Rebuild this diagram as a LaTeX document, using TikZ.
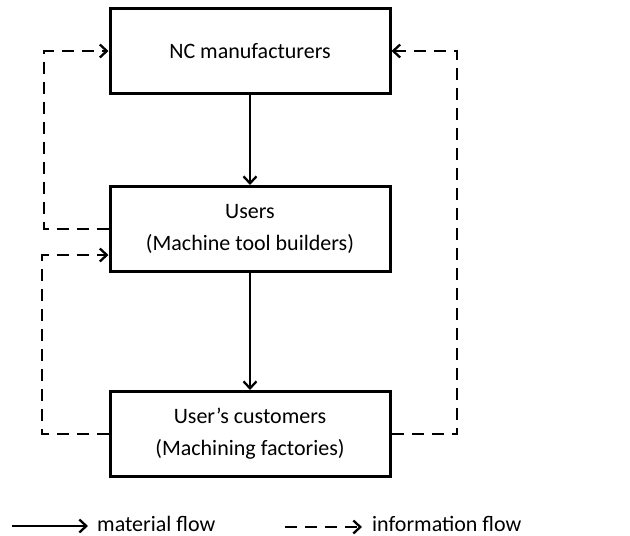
\documentclass[tikz,border=0pt]{standalone}
\usepackage{fontspec}
\setmainfont{Carlito}
\usetikzlibrary{arrows.meta}
\begin{document}
\begin{tikzpicture}[x=1pt,y=-1pt,
	txt/.style={font=\fontsize{22}{32}\selectfont},
	box/.style={txt,draw,line width=3pt,minimum width=280pt,minimum height=85pt,inner sep=0pt,align=center},
	flow/.style={line width=2.3pt,-{Straight Barb[length=7pt,width=13pt,line width=2.3pt]}},
	info/.style={flow,dash pattern=on 12pt off 8pt}]
	\useasboundingbox (0,0) rectangle (630,536);
	\node[box](nc) at (250,51) {NC manufacturers};
	\node[box](users) at (250,229) {Users\\(Machine tool builders)};
	\node[box](cust) at (250,434) {User’s customers\\(Machining factories)};
	\draw[flow](nc)--(users);
	\draw[flow](users)--(cust);
	\coordinate (u2) at ([yshift=-26pt]users.west);
	\draw[info](users.west)-|(44,51)--(nc.west);
	\draw[info](cust.west)-|(42,255)--(u2);
	\draw[info](cust.east)-|(457,51)--(nc.east);
	\coordinate (m0) at (12,526);
	\coordinate (m1) at (88,526);
	\coordinate (i0) at (285,527);
	\coordinate (i1) at (362,527);
	\draw[flow](m0)--(m1);
	\draw[info](i0)--(i1);
	\node[txt,anchor=base west,inner sep=0pt](mat) at (97,531) {material flow};
	\node[txt,anchor=base west,inner sep=0pt](inf) at (372,531) {information flow};
\end{tikzpicture}
\end{document}
